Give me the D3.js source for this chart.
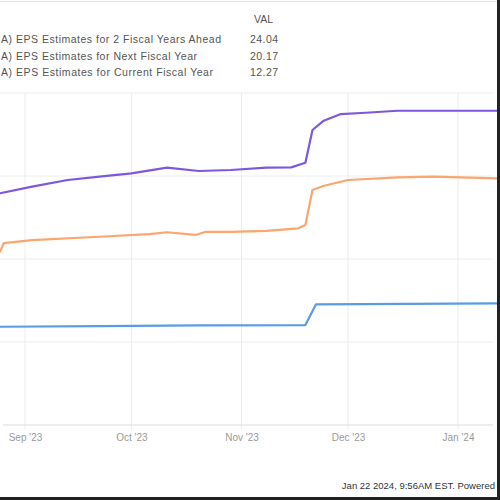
<!DOCTYPE html>
<html><head><meta charset="utf-8">
<script src="https://cdn.jsdelivr.net/npm/d3@7"></script>
<style>body{margin:0;background:#fff}svg{display:block;font-family:"Liberation Sans",Arial,sans-serif}</style>
</head><body>
<script>
// Data
const seriesNames = ["A) EPS Estimates for 2 Fiscal Years Ahead","A) EPS Estimates for Next Fiscal Year","A) EPS Estimates for Current Fiscal Year"];
const seriesLast = ["24.04","20.17","12.27"];
const purpleDates = ["2023-08-20","2023-08-25","2023-09-03","2023-09-13","2023-09-22","2023-10-01","2023-10-11","2023-10-20","2023-10-29","2023-11-08","2023-11-15","2023-11-19","2023-11-21","2023-11-24","2023-11-29","2023-12-06","2023-12-15","2023-12-25","2024-01-12","2024-01-22"];
const purpleVals  = [18.8,18.96,19.36,19.76,19.96,20.16,20.5,20.3,20.36,20.5,20.52,20.8,22.77,23.31,23.73,23.81,23.93,23.93,23.94,24.04];
const orangeDates = ["2023-08-20","2023-08-25","2023-08-26","2023-09-03","2023-09-22","2023-10-06","2023-10-11","2023-10-19","2023-10-22","2023-10-29","2023-11-08","2023-11-17","2023-11-19","2023-11-21","2023-11-24","2023-12-01","2023-12-15","2023-12-25","2024-01-12","2024-01-22"];
const orangeVals  = [15.2,15.44,15.96,16.14,16.34,16.5,16.61,16.45,16.64,16.64,16.7,16.85,17.05,19.16,19.4,19.76,19.92,19.96,19.86,19.86];
const blueDates = ["2023-08-20","2023-08-25","2023-09-22","2023-10-20","2023-11-19","2023-11-22","2024-01-12","2024-01-22"];
const blueVals  = [10.9,10.92,10.96,11.0,11.02,12.27,12.33,12.27];
const xTickDates = ["2023-09-01","2023-10-01","2023-11-01","2023-12-01","2024-01-01"];
const xTickLabels = ["Sep '23","Oct '23","Nov '23","Dec '23","Jan '24"];
const yTicks = [10,15,20,25];
const colors = ["#7e57df","#fba56f","#5b9be6"];

const W=500,H=500;
const svg=d3.select("body").append("svg").attr("width",W).attr("height",H);
const parse=d3.timeParse("%Y-%m-%d");
const x=d3.scaleTime().domain([parse("2023-09-01"),parse("2024-01-01")]).range([25,458]);
const y=d3.scaleLinear().domain([5,25]).range([425,93]);

// top light line
svg.append("line").attr("x1",0).attr("x2",W).attr("y1",1.5).attr("y2",1.5).attr("stroke","#e6e6e6");

// grid
const g=svg.append("g");
g.selectAll(".hg").data(yTicks).join("line").attr("x1",0).attr("x2",493)
 .attr("y1",d=>y(d)).attr("y2",d=>y(d)).attr("stroke","#ececec").attr("stroke-width",1);
g.selectAll(".vg").data(xTickDates).join("line").attr("x1",d=>x(parse(d))).attr("x2",d=>x(parse(d)))
 .attr("y1",y(25)).attr("y2",y(5)+4).attr("stroke","#ececec");
// x axis
const xa=svg.append("g").attr("transform",`translate(0,${y(5)})`)
 .call(d3.axisBottom(x).tickValues(xTickDates.map(parse)).tickFormat((d,i)=>xTickLabels[i]).tickSize(0).tickPadding(9));
xa.select(".domain").remove();
xa.selectAll("text").attr("fill","#9a9a9a").style("font-size","10px");
svg.append("line").attr("x1",3).attr("x2",493).attr("y1",y(5)).attr("y2",y(5)).attr("stroke","#dcdcdc");

// lines
const clip=svg.append("clipPath").attr("id","c").append("rect").attr("x",0).attr("y",85).attr("width",500).attr("height",345);
const line=d3.line().x(d=>x(d[0])).y(d=>y(d[1]));
const sets=[[purpleDates,purpleVals],[orangeDates,orangeVals],[blueDates,blueVals]];
sets.forEach((s,i)=>{
  const data=s[0].map((d,j)=>[parse(d),s[1][j]]);
  svg.append("path").datum(data).attr("d",line).attr("fill","none").attr("stroke",colors[i])
   .attr("stroke-width",2.2).attr("stroke-linejoin","round").attr("clip-path","url(#c)");
});

// legend
const lg=svg.append("g").style("font-size","10.5px").attr("fill","#555");
lg.append("text").attr("x",273).attr("y",23).attr("text-anchor","end").text("VAL");
seriesNames.forEach((n,i)=>{
  lg.append("text").attr("x",1).attr("y",43+i*16.5).attr("textLength",i===0?220:(i===1?196:212)).attr("lengthAdjust","spacing").text(n);
  lg.append("text").attr("x",278).attr("y",43+i*16.5).attr("text-anchor","end").attr("textLength",28).text(seriesLast[i]);
});

// footer
svg.append("text").attr("x",495).attr("y",489).attr("text-anchor","end").style("font-size","9.5px").attr("fill","#333")
 .text("Jan 22 2024, 9:56AM EST.  Powered");

// frame edges
svg.append("rect").attr("x",497).attr("y",0).attr("width",3).attr("height",H).attr("fill","#222");
svg.append("rect").attr("x",0).attr("y",497).attr("width",W).attr("height",3).attr("fill","#222");
</script>
</body></html>
